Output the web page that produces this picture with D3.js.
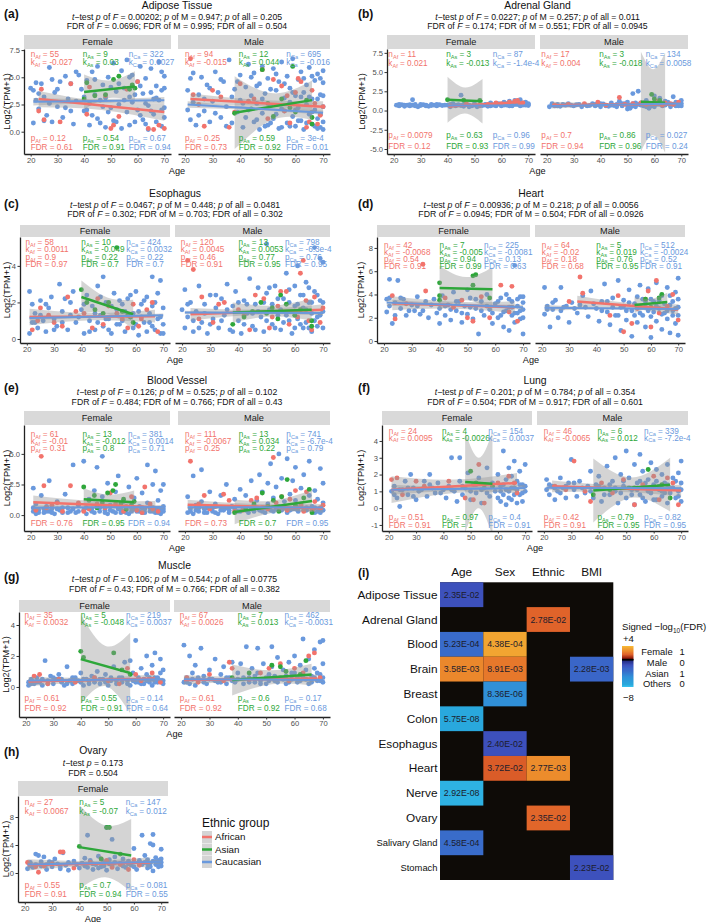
<!DOCTYPE html>
<html><head><meta charset="utf-8">
<script src="https://cdn.jsdelivr.net/npm/d3@7"></script>
<style>body{margin:0;background:#fff}svg{display:block}</style>
</head><body><svg id="c" width="709" height="922"></svg>
<script>
// ---------------- DATA ----------------
const xTicks = [20,30,40,50,60,70];
const groups = ["Af","As","Ca"];
const groupNames = ["African","Asian","Caucasian"];

// (a) Adipose Tissue
const adiposeF_Ca = [[21,0.8],[21,3.8],[22,2.9],[22,4.5],[23,2.1],[24,4.4],[25,3.2],[26,1.5],[27,5.9],[27,2.6],[28,0.9],[29,3.6],[30,2.3],[31,4.6],[32,1.3],[33,5.1],[34,3.0],[35,4.4],[36,0.7],[37,2.8],[38,5.2],[39,3.9],[40,1.9],[41,4.7],[42,2.6],[42,0.6],[43,5.5],[44,3.4],[45,1.2],[45,6.0],[46,2.9],[47,4.3],[48,0.4],[48,3.1],[49,5.0],[50,2.2],[51,6.3],[51,1.0],[52,3.7],[53,2.5],[54,5.6],[54,0.3],[55,4.0],[56,1.8],[56,6.6],[57,3.2],[58,2.7],[58,5.2],[59,0.9],[60,4.6],[60,2.0],[61,6.0],[62,3.5],[62,1.1],[63,4.9],[64,2.4],[64,0.2],[65,5.8],[66,3.0],[66,1.6],[67,4.2],[68,2.9],[68,6.4],[69,0.5],[69,3.8],[70,2.2],[70,5.1],[70,1.3],
  [20,4.0],[23,3.5],[25,1.0],[28,4.8],[30,3.9],[33,2.2],[35,1.9],[37,5.5],[40,3.2],[41,2.0],[43,1.5],[44,4.8],[46,0.8],[47,2.3],[49,1.8],[50,4.1],[52,0.9],[53,4.4],[55,2.9],[57,0.6],[57,5.0],[59,3.4],[61,1.5],[61,4.2],[63,2.6],[63,0.7],[65,3.6],[65,1.9],[67,0.9],[67,3.1],[69,5.5],[69,2.0],[70,4.0]];
const adiposeF_Af = [[23,1.9],[24,3.9],[25,1.1],[31,0.9],[35,4.4],[41,1.6],[42,4.1],[48,3.3],[50,0.3],[51,0.6],[53,1.4],[56,3.9],[60,4.6],[64,0.3],[66,0.2],[68,0.6],[70,0.3]];
const adiposeF_As = [[40,3.0],[41,4.5],[44,3.3],[48,3.4],[51,4.8],[53,5.1],[57,3.9],[58,4.3],[59,4.0]];
const adiposeM_Ca = [[21,3.8],[22,1.1],[22,4.9],[23,2.7],[24,0.6],[25,3.4],[26,5.0],[27,1.9],[28,4.3],[29,0.9],[30,2.8],[31,5.5],[32,3.6],[33,1.3],[34,4.6],[35,2.3],[36,6.6],[37,0.8],[38,3.9],[39,1.8],[40,5.2],[40,2.9],[41,0.4],[42,4.1],[43,2.0],[43,6.2],[44,3.3],[45,0.9],[45,5.4],[46,2.6],[47,4.4],[47,0.2],[48,1.7],[48,6.0],[49,3.5],[50,0.6],[50,4.9],[51,2.4],[52,5.8],[52,1.2],[53,3.8],[54,0.3],[54,4.6],[55,2.1],[55,6.4],[56,3.1],[57,0.8],[57,5.1],[58,2.7],[58,4.0],[59,1.4],[59,6.7],[60,3.3],[60,0.5],[61,4.8],[61,2.2],[62,5.5],[62,1.0],[63,3.6],[63,0.2],[64,4.3],[64,2.5],[65,5.9],[65,1.6],[66,3.0],[66,0.7],[67,4.7],[67,2.0],[68,5.3],[68,1.2],[69,3.4],[69,0.4],[70,4.5],[70,2.3],[70,0.9],
  [21,2.0],[23,5.4],[25,1.5],[27,3.0],[29,4.0],[31,1.7],[33,4.8],[35,0.5],[37,3.2],[39,4.6],[41,2.6],[42,1.3],[44,5.0],[46,1.1],[46,4.2],[48,3.0],[49,0.5],[51,3.9],[51,0.8],[53,1.6],[53,5.3],[55,0.4],[56,4.4],[56,1.9],[58,0.5],[59,3.6],[60,2.0],[61,1.0],[62,3.2],[63,4.9],[64,0.8],[65,3.2],[66,5.1],[66,1.8],[67,0.5],[68,3.0],[68,0.3],[69,4.9],[69,1.6],[70,3.3],[70,0.2],[70,5.6]];
const adiposeM_Af = [[22,6.7],[23,3.4],[27,0.5],[30,3.8],[33,3.2],[36,0.4],[40,4.4],[45,3.0],[48,5.7],[50,1.2],[55,4.2],[56,1.9],[58,0.8],[60,3.6],[61,4.9],[62,4.6],[65,0.9],[67,2.6],[69,1.5],[25,2.5],[38,1.8],[43,2.8],[52,4.8],[57,3.3],[64,0.4],[66,3.8],[68,0.7],[70,2.3]];
const adiposeM_As = [[38,1.7],[44,2.1],[48,5.7],[50,2.6],[52,1.4],[55,3.0],[58,2.2],[59,6.0],[60,1.8],[64,2.9],[66,1.3],[66,0.7]];
const adiposeFits = [[0,"Af",23,3.0,70,1.8,0.75,0.4,0.8],[0,"As",40,3.65,59,4.15,1.6,0.8,1.4],[0,"Ca",21,2.75,70,2.9,0.35,0.18,0.3],[1,"Af",22,3.0,70,2.3,0.5,0.28,0.5],[1,"As",38,1.75,66,2.9,3.35,1.2,1.8],[1,"Ca",21,2.5,70,1.75,0.3,0.14,0.2]];
const adiposeStats = [[0,"Af","55","-0.027","0.12","0.61"],[0,"As","9","0.03","0.54","0.91"],[0,"Ca","322","0.0027","0.67","0.94"],[1,"Af","94","-0.015","0.25","0.73"],[1,"As","12","0.044","0.59","0.92"],[1,"Ca","695","-0.016","3e-4","0.01"]];
const adiposeSub = ["_t_−test _p_ of _F_ = 0.00202; _p_ of M = 0.947; _p_ of all = 0.205","FDR of _F_ = 0.0696; FDR of M = 0.995; FDR of all = 0.504"];

// (b) Adrenal Gland
const adrenalF_Ca = [[21,0.7],[22,0.6],[23,0.75],[24,0.55],[25,0.7],[26,0.6],[27,1.4],[27,0.7],[28,0.8],[29,0.5],[30,0.65],[31,0.75],[32,0.7],[33,0.55],[34,0.8],[35,0.7],[36,0.6],[37,0.75],[38,0.65],[40,0.7],[41,0.5],[42,0.9],[43,0.6],[44,0.75],[45,2.0],[45,0.65],[46,0.55],[47,0.8],[48,0.7],[49,0.6],[50,0.9],[51,0.5],[52,0.75],[53,0.65],[54,0.8],[55,0.55],[56,1.0],[57,0.7],[58,0.6],[59,0.9],[60,0.8],[61,1.1],[62,0.7],[63,1.2],[63,0.6],[64,0.9],[65,1.3],[66,0.8],[67,1.4],[67,0.6],[68,1.0],[69,0.7],[69,1.1],[70,0.65],[70,0.9],
  [22,0.8],[24,0.7],[26,0.75],[28,0.6],[30,0.8],[32,0.6],[34,0.65],[36,0.8],[39,0.7],[41,0.8],[43,0.7],[46,0.8],[48,0.5],[50,0.7],[52,0.6],[54,0.7],[56,0.6],[58,0.8],[60,0.6],[61,0.7],[62,0.9],[64,0.6],[65,0.8],[66,1.0],[68,0.7],[69,0.9],[70,0.8]];
const adrenalF_Af = [[41,0.6],[47,0.9],[52,0.7],[55,0.8],[58,1.0],[60,0.9],[63,1.1],[65,1.2],[66,1.3],[67,0.9],[68,1.0]];
const adrenalF_As = [[40,1.4],[46,1.35],[52,1.3]];
const adrenalM_Ca = [[21,0.5],[22,0.7],[23,0.6],[24,0.8],[25,0.55],[27,0.7],[28,0.9],[30,0.6],[31,0.75],[33,0.5],[34,0.8],[36,0.65],[37,0.9],[38,0.6],[39,0.75],[40,0.5],[41,0.85],[42,0.7],[43,0.55],[44,1.0],[45,0.65],[46,0.8],[47,1.2],[48,0.6],[49,0.9],[50,0.2],[50,1.1],[51,0.7],[51,0.3],[52,2.2],[52,0.9],[53,0.5],[54,2.5],[54,0.8],[55,1.0],[56,0.6],[57,1.3],[58,0.7],[58,0.3],[59,0.9],[60,1.9],[60,0.5],[61,1.1],[62,0.8],[62,1.6],[63,0.6],[64,1.2],[65,0.9],[66,0.5],[67,1.8],[67,0.8],[68,1.1],[69,0.6],[70,1.3],[70,0.9],
  [22,0.9],[24,0.6],[26,0.8],[29,0.7],[32,0.8],[35,0.6],[38,0.8],[40,0.9],[42,0.6],[44,0.7],[46,0.5],[48,0.9],[50,0.7],[52,0.6],[53,1.0],[55,0.7],[56,1.0],[57,0.5],[59,0.6],[61,0.8],[63,0.9],[64,0.7],[65,1.1],[66,0.8],[68,0.6],[69,0.9],[70,0.6]];
const adrenalM_Af = [[23,0.7],[28,0.8],[34,0.9],[39,1.1],[42,0.7],[47,1.7],[49,0.8],[52,0.9],[55,1.0],[57,0.8],[60,0.9],[61,1.2],[63,0.7],[64,1.0],[66,0.9],[67,0.8],[69,1.1]];
const adrenalM_As = [[59,2.1],[60,1.5],[62,1.3]];
const adrenalFits = [[0,"Af",41,0.55,67,1.1,0.3,0.15,0.25],[0,"As",40,1.4,53,1.2,3.0,1.7,2.9],[0,"Ca",21,0.65,70,0.65,0.1,0.05,0.08],[1,"Af",22,0.7,68,0.85,0.45,0.2,0.3],[1,"As",55,1.15,64,1.0,6.5,4.3,6.5],[1,"Ca",21,0.6,70,0.9,0.1,0.05,0.08]];
const adrenalStats = [[0,"Af","11","0.021","0.0079","0.12"],[0,"As","3","-0.013","0.63","0.93"],[0,"Ca","87","-1.4e-4","0.96","0.99"],[1,"Af","17","0.004","0.7","0.94"],[1,"As","3","-0.018","0.86","0.96"],[1,"Ca","134","0.0058","0.027","0.24"]];
const adrenalSub = ["_t_−test _p_ of _F_ = 0.0227; _p_ of M = 0.257; _p_ of all = 0.011","FDR of _F_ = 0.174; FDR of M = 0.551; FDR of all = 0.0945"];

// (c) Esophagus
const esoF_Ca = [[21,2.6],[21,0.3],[22,1.9],[22,0.9],[23,1.4],[24,0.6],[25,2.1],[26,1.0],[27,0.4],[28,1.7],[29,2.3],[30,1.1],[31,0.7],[32,3.0],[33,1.5],[34,2.2],[35,0.5],[36,1.3],[37,2.6],[38,0.9],[40,1.6],[41,0.3],[42,2.4],[43,1.0],[44,1.8],[45,0.5],[46,2.9],[47,1.3],[48,3.4],[48,0.7],[49,2.0],[50,1.1],[51,0.3],[52,2.5],[53,1.6],[54,0.8],[55,1.9],[56,0.4],[57,2.2],[58,1.2],[59,0.6],[60,2.6],[61,1.5],[61,0.2],[62,1.9],[63,0.9],[64,2.3],[64,0.4],[65,1.4],[66,3.4],[66,0.7],[67,2.0],[68,1.1],[69,3.2],[69,0.3],[70,1.7],[70,0.8],
  [23,0.9],[25,1.3],[27,1.9],[30,0.5],[33,0.9],[36,2.0],[39,1.2],[41,1.9],[43,0.4],[45,1.4],[46,0.9],[47,2.3],[49,1.1],[50,0.5],[51,1.8],[53,0.8],[54,2.1],[55,1.0],[56,1.5],[58,2.4],[59,1.4],[60,0.8],[62,1.2],[63,2.1],[65,0.9],[66,1.8],[67,0.5],[68,2.5],[69,1.2],[70,0.3]];
const esoF_Af = [[22,0.5],[25,1.7],[28,1.3],[33,0.7],[35,2.3],[38,1.5],[44,0.6],[46,2.2],[50,1.8],[53,1.4],[57,0.6],[59,1.9],[62,1.1],[66,2.0],[68,0.4],[24,1.0],[30,0.9],[41,1.4],[48,0.8],[55,1.1],[61,0.7],[64,1.6]];
const esoF_As = [[40,2.7],[42,2.0],[45,1.6],[48,1.4],[50,2.0],[53,5.0],[55,1.5],[57,1.3],[58,1.2],[59,0.9]];
const esoM_Ca = [[20,1.6],[21,0.6],[21,2.7],[22,1.2],[23,2.0],[24,0.4],[25,1.5],[26,2.9],[27,0.9],[28,1.9],[29,0.3],[30,2.4],[31,1.1],[32,1.7],[33,0.6],[34,2.2],[35,1.3],[36,3.0],[37,0.5],[38,1.8],[39,2.6],[40,1.0],[41,0.3],[42,2.1],[43,1.4],[44,3.3],[45,0.7],[46,1.9],[47,2.8],[48,1.2],[49,0.4],[50,2.5],[50,5.2],[51,1.6],[52,0.8],[53,2.9],[54,1.3],[55,0.5],[56,2.2],[57,3.6],[58,1.0],[58,2.7],[59,0.3],[60,1.8],[61,4.0],[61,1.1],[62,2.4],[63,0.6],[63,1.7],[64,3.1],[64,0.9],[65,2.0],[66,1.4],[66,0.4],[67,2.6],[67,5.0],[68,1.2],[68,0.7],[69,4.4],[69,2.1],[70,1.5],[70,0.6],[70,4.2],
  [22,1.9],[24,1.0],[26,0.6],[28,1.4],[30,0.8],[32,2.4],[34,1.0],[36,1.6],[38,0.4],[40,2.0],[42,0.8],[43,1.9],[45,1.4],[46,0.5],[47,1.5],[49,2.0],[50,1.0],[51,2.8],[52,1.9],[53,0.6],[54,2.2],[55,1.6],[56,0.9],[57,1.3],[58,2.0],[59,1.5],[60,0.6],[60,2.9],[61,1.9],[62,0.8],[63,2.4],[64,1.6],[65,0.6],[65,2.8],[66,2.0],[67,1.0],[68,2.4],[69,1.3],[70,2.0]];
const esoM_Af = [[22,4.3],[24,3.8],[27,2.3],[31,0.9],[35,2.0],[40,1.6],[44,0.5],[49,2.2],[52,1.2],[55,2.6],[58,0.8],[60,1.5],[62,3.6],[63,4.3],[65,1.0],[67,2.3],[69,0.9],[26,1.1],[33,1.9],[42,1.3],[46,2.4],[51,0.6],[54,1.8],[57,2.6],[61,1.2],[64,2.1],[66,0.5],[70,1.7]];
const esoM_As = [[38,0.8],[42,1.2],[45,1.5],[48,2.0],[50,1.4],[52,1.7],[54,1.1],[55,2.4],[57,1.9],[60,1.3],[62,1.6],[66,0.7],[66,1.0]];
const esoFits = [[0,"Af",21,1.2,67,1.25,0.45,0.2,0.35],[0,"As",40,2.3,59,1.35,0.9,0.45,0.8],[0,"Ca",21,1.15,70,1.3,0.12,0.06,0.1],[1,"Af",23,1.35,70,1.6,0.35,0.15,0.3],[1,"As",38,1.45,66,1.6,0.55,0.3,0.6],[1,"Ca",21,1.45,70,1.42,0.1,0.05,0.08]];
const esoStats = [[0,"Af","58","0.0011","0.9","0.97"],[0,"As","10","-0.049","0.22","0.7"],[0,"Ca","424","0.0032","0.22","0.7"],[1,"Af","120","0.0045","0.46","0.91"],[1,"As","13","0.0053","0.77","0.95"],[1,"Ca","798","-6.3e-4","0.76","0.95"]];
const esoSub = ["_t_−test _p_ of _F_ = 0.0467; _p_ of M = 0.448; _p_ of all = 0.0481","FDR of _F_ = 0.302; FDR of M = 0.703; FDR of all = 0.302"];

// (d) Heart
const heartF_Ca = [[21,3.6],[21,2.5],[22,5.3],[22,3.0],[23,1.5],[24,3.3],[25,5.2],[26,2.8],[27,3.6],[28,2.2],[30,3.1],[31,2.6],[32,3.8],[33,2.3],[35,3.4],[36,2.0],[38,3.6],[40,1.5],[40,2.8],[41,3.9],[42,2.2],[43,3.1],[44,1.8],[45,4.2],[46,2.6],[47,3.4],[48,1.6],[49,3.0],[50,4.4],[50,2.3],[51,3.7],[52,1.9],[53,2.8],[54,0.6],[55,3.4],[56,2.2],[57,4.0],[58,2.7],[59,1.5],[60,3.2],[61,2.0],[62,3.7],[63,2.5],[63,1.2],[64,4.0],[65,2.9],[65,0.9],[66,3.4],[66,2.2],[67,6.5],[67,1.6],[68,3.0],[68,2.4],[69,3.8],[69,1.9],[70,2.7],[70,0.6],[70,3.3],
  [22,3.7],[24,2.2],[26,3.7],[29,2.6],[32,3.0],[34,2.6],[37,3.1],[39,2.4],[42,3.0],[44,2.7],[46,3.4],[48,2.4],[51,2.9],[53,3.6],[55,2.6],[57,3.0],[59,2.4],[61,3.4],[62,2.2],[64,2.6],[65,3.6],[66,2.9],[67,2.4],[68,3.6],[69,2.6],[70,2.0],[70,3.8]];
const heartF_Af = [[23,3.9],[24,1.9],[28,3.2],[34,6.6],[35,4.3],[42,3.7],[45,2.9],[48,3.5],[50,2.0],[52,1.7],[55,3.8],[58,2.0],[62,4.8],[65,2.5],[66,4.7],[68,1.7]];
const heartF_As = [[40,5.0],[40,3.9],[40,3.5],[52,5.6],[53,5.7],[52,4.8],[58,3.7]];
const heartM_Ca = [[21,4.6],[21,2.3],[22,3.0],[23,1.2],[24,2.7],[25,3.5],[26,2.0],[27,4.6],[28,2.9],[30,1.6],[31,3.3],[33,2.4],[35,3.9],[37,2.1],[38,4.3],[40,2.8],[41,1.7],[42,3.4],[43,4.9],[44,2.5],[45,1.4],[46,3.7],[47,2.2],[48,5.2],[49,2.9],[49,0.9],[50,3.5],[51,1.8],[52,4.4],[53,2.6],[53,0.4],[54,3.2],[55,1.6],[56,4.8],[56,2.4],[57,3.6],[58,1.2],[58,2.9],[59,4.5],[60,2.1],[60,0.3],[61,3.4],[62,5.0],[62,1.7],[63,2.8],[64,3.9],[64,1.0],[65,2.4],[66,4.6],[66,1.9],[67,3.1],[67,0.7],[68,2.6],[69,4.2],[69,1.5],[70,5.4],[70,2.9],[70,0.5],
  [22,2.7],[24,3.3],[27,2.6],[29,3.0],[32,2.8],[34,3.1],[36,2.9],[39,3.2],[42,2.6],[44,3.4],[46,2.9],[48,2.2],[50,3.0],[51,2.6],[52,3.3],[54,2.2],[55,3.8],[56,3.0],[57,2.2],[58,3.4],[59,2.6],[60,3.6],[61,2.5],[62,3.0],[63,3.5],[64,2.3],[65,3.2],[66,2.6],[67,3.9],[68,2.2],[68,3.4],[69,2.8],[70,3.6],[70,2.2]];
const heartM_Af = [[30,3.4],[34,5.5],[35,4.1],[45,2.2],[48,3.9],[50,0.8],[53,1.5],[55,2.8],[58,3.6],[59,4.3],[60,1.2],[62,5.2],[63,2.4],[66,3.0],[68,4.0],[70,1.8]];
const heartM_As = [[55,3.0],[58,3.6],[60,2.9],[63,3.7],[64,4.0]];
const heartFits = [[0,"Af",23,3.25,67,2.9,0.6,0.3,0.5],[0,"As",40,4.55,59,4.45,1.9,1.0,1.9],[0,"Ca",21,3.3,70,2.9,0.3,0.12,0.2],[1,"Af",33,3.4,70,2.7,0.5,0.25,0.45],[1,"As",54,3.1,66,3.35,0.7,0.4,0.8],[1,"Ca",21,2.85,70,2.75,0.25,0.1,0.15]];
const heartStats = [[0,"Af","42","-0.0068","0.54","0.91"],[0,"As","7","-0.005","0.94","0.99"],[0,"Ca","225","-0.0081","0.13","0.63"],[1,"Af","64","-0.02","0.18","0.68"],[1,"As","5","0.019","0.76","0.95"],[1,"Ca","512","-0.0024","0.52","0.91"]];
const heartSub = ["_t_−test _p_ of _F_ = 0.00936; _p_ of M = 0.218; _p_ of all = 0.0056","FDR of _F_ = 0.0945; FDR of M = 0.504; FDR of all = 0.0926"];

// (e) Blood Vessel
const vesselF_Ca = [[21,0.3],[21,2.2],[22,0.1],[22,0.9],[23,0.4],[24,1.6],[25,0.2],[26,0.7],[27,2.8],[27,0.3],[28,0.5],[29,0.1],[30,1.1],[31,0.4],[32,0.2],[33,1.7],[34,0.6],[35,0.3],[36,4.1],[37,0.2],[38,0.8],[40,0.4],[40,4.4],[41,0.1],[42,1.3],[43,0.5],[44,2.0],[44,0.2],[45,3.9],[45,0.7],[46,0.3],[47,4.8],[47,1.5],[48,0.4],[49,2.6],[49,0.1],[50,0.8],[51,0.3],[52,1.9],[53,0.5],[53,3.2],[54,0.2],[55,1.1],[56,0.4],[57,2.3],[57,0.1],[58,0.6],[59,1.4],[60,0.3],[60,3.0],[61,0.7],[62,0.2],[62,1.8],[63,0.5],[64,4.1],[64,1.0],[65,0.3],[66,2.5],[66,0.6],[67,0.2],[67,3.6],[68,1.2],[68,0.4],[69,2.0],[69,0.1],[70,0.7],[70,2.5],
  [21,0.6],[23,0.2],[25,0.5],[26,0.3],[28,0.2],[30,0.5],[32,0.6],[34,0.2],[36,0.5],[38,0.3],[41,0.6],[43,0.3],[46,0.6],[48,0.2],[50,0.4],[52,0.2],[54,0.5],[55,0.3],[56,0.2],[58,0.3],[59,0.5],[61,0.3],[62,0.6],[63,0.2],[65,0.6],[66,0.3],[67,0.5],[68,0.2],[69,0.4],[70,0.3],[70,0.5]];
const vesselF_Af = [[22,0.4],[24,4.8],[25,2.4],[28,0.8],[32,0.3],[35,2.4],[38,1.0],[42,0.5],[48,0.6],[50,1.8],[52,0.9],[55,0.3],[58,1.5],[62,0.2],[63,2.3],[66,0.5],[68,0.3],[26,0.6],[30,1.0],[40,0.3],[45,0.9],[56,0.7],[60,0.4],[65,0.9]];
const vesselF_As = [[40,2.3],[42,1.2],[44,1.6],[45,0.6],[47,1.0],[49,1.8],[51,2.0],[52,2.5],[54,0.9],[55,1.3],[56,0.5],[58,0.8],[59,1.1]];
const vesselM_Ca = [[21,0.2],[21,1.5],[22,0.5],[23,3.2],[23,0.1],[24,0.8],[25,0.3],[26,3.7],[26,1.1],[27,0.2],[28,0.6],[29,1.9],[30,0.3],[31,0.9],[32,0.1],[33,1.6],[34,0.4],[35,2.5],[36,0.2],[37,0.7],[38,1.3],[39,0.3],[40,2.1],[41,0.5],[42,1.6],[43,0.2],[44,2.8],[45,0.8],[46,1.2],[47,3.3],[47,0.4],[48,1.9],[49,0.2],[50,2.6],[50,0.9],[51,4.2],[52,1.4],[52,0.3],[53,2.3],[54,5.0],[54,0.7],[55,3.0],[56,1.1],[57,0.2],[57,4.6],[58,1.7],[59,0.5],[59,2.8],[60,1.2],[60,3.9],[61,0.3],[62,2.2],[62,0.9],[63,3.3],[64,0.4],[65,1.6],[65,4.4],[66,0.7],[67,2.0],[67,0.2],[68,1.3],[69,3.8],[69,0.5],[70,1.0],[70,2.6],
  [22,0.3],[24,0.4],[25,0.6],[27,0.5],[28,0.2],[30,0.6],[31,0.2],[33,0.4],[35,0.6],[36,0.4],[38,0.5],[40,0.3],[42,0.4],[44,0.5],[45,0.3],[46,0.6],[48,0.3],[49,0.6],[51,0.4],[53,0.5],[55,0.4],[56,0.6],[58,0.4],[60,0.5],[61,0.6],[63,0.4],[64,0.6],[66,0.4],[67,0.6],[68,0.3],[69,0.2],[70,0.4]];
const vesselM_Af = [[22,4.4],[25,0.9],[29,0.5],[34,1.7],[38,0.3],[44,1.2],[48,0.6],[52,4.7],[55,1.5],[57,0.4],[60,2.0],[62,0.8],[64,1.9],[66,0.4],[69,0.6],[27,1.6],[31,0.7],[36,1.2],[41,0.4],[46,1.4],[50,0.5],[53,1.0],[58,1.3],[63,0.3],[67,1.1],[70,0.8]];
const vesselM_As = [[38,0.2],[42,0.6],[45,0.9],[48,1.8],[50,0.7],[52,1.2],[54,0.3],[55,1.5],[57,2.9],[60,0.8],[63,1.4],[65,2.1],[66,0.2]];
const vesselFits = [[0,"Af",21,1.05,67,0.65,0.55,0.3,0.5],[0,"As",40,1.3,59,1.05,0.9,0.5,0.95],[0,"Ca",21,0.6,70,0.67,0.2,0.08,0.15],[1,"Af",21,0.85,70,0.55,0.4,0.2,0.35],[1,"As",38,0.25,66,1.15,1.0,0.5,0.9],[1,"Ca",21,0.65,70,0.62,0.15,0.06,0.1]];
const vesselStats = [[0,"Af","61","-0.01","0.31","0.76"],[0,"As","13","-0.012","0.8","0.95"],[0,"Ca","381","0.0014","0.71","0.94"],[1,"Af","111","-0.0067","0.25","0.73"],[1,"As","13","0.034","0.22","0.7"],[1,"Ca","741","-6.7e-4","0.79","0.95"]];
const vesselSub = ["_t_−test _p_ of _F_ = 0.126; _p_ of M = 0.525; _p_ of all = 0.102","FDR of _F_ = 0.484; FDR of M = 0.766; FDR of all = 0.43"];

// (f) Lung
const lungF_Ca = [[21,1.0],[22,1.3],[23,0.6],[24,0.1],[25,1.1],[26,1.6],[27,0.8],[28,2.0],[29,1.2],[30,0.5],[31,1.0],[33,1.6],[34,0.7],[35,2.0],[36,1.2],[37,0.9],[38,1.5],[40,1.1],[41,0.6],[42,1.3],[43,3.0],[44,1.0],[45,0.4],[46,3.0],[46,1.6],[47,0.8],[48,1.2],[49,2.1],[50,0.5],[51,1.4],[52,0.9],[53,1.8],[54,0.3],[55,1.2],[56,2.4],[57,0.7],[58,1.5],[59,1.0],[60,2.0],[61,0.4],[61,1.3],[62,3.4],[62,0.8],[63,1.7],[63,0.2],[64,2.4],[64,1.0],[65,0.5],[65,1.9],[66,2.8],[66,1.2],[67,0.3],[67,1.6],[68,2.2],[68,0.8],[69,1.4],[69,0.4],[70,1.0],[70,2.6],
  [22,0.8],[24,1.1],[27,1.2],[29,0.7],[32,1.1],[35,1.4],[39,0.9],[43,1.1],[47,1.3],[50,1.0],[52,1.4],[54,1.1],[56,0.9],[58,1.3],[60,0.6],[61,1.0],[62,1.4],[63,1.1],[64,0.6],[65,1.2],[66,0.8],[67,1.1],[68,1.4],[69,0.9],[70,1.3]];
const lungF_Af = [[21,1.7],[23,1.8],[25,0.8],[30,1.6],[33,1.3],[42,1.6],[48,0.6],[51,0.5],[53,2.6],[55,0.3],[60,1.5],[64,1.9],[66,1.5],[67,0.9]];
const lungF_As = [[50,2.2],[52,1.5],[55,1.4],[58,1.3]];
const lungM_Ca = [[21,1.1],[21,1.7],[22,0.8],[23,1.3],[24,0.5],[25,1.0],[26,1.8],[27,1.2],[28,0.6],[29,1.5],[30,2.9],[31,1.1],[32,0.7],[33,1.6],[35,0.9],[36,1.3],[37,2.2],[38,0.6],[39,1.4],[40,1.9],[41,0.4],[42,1.2],[43,2.5],[44,0.8],[45,1.6],[46,3.0],[46,1.0],[47,0.3],[48,2.0],[49,1.3],[50,3.4],[50,0.6],[51,1.8],[52,1.1],[53,2.6],[53,0.2],[54,1.5],[55,3.2],[55,0.8],[56,2.2],[57,1.2],[57,0.4],[58,1.7],[59,2.7],[59,0.9],[60,1.4],[61,2.3],[61,0.5],[62,1.1],[63,2.0],[63,0.7],[64,1.5],[65,2.6],[65,0.3],[66,1.2],[67,1.8],[68,0.6],[69,2.1],[69,1.0],[70,2.8],[70,0.4],[70,1.5],
  [22,1.4],[24,1.2],[26,0.9],[28,1.3],[31,1.5],[34,1.2],[37,1.0],[40,1.3],[42,0.8],[44,1.4],[46,1.2],[48,0.9],[49,1.6],[51,1.2],[52,0.8],[54,1.1],[55,1.6],[56,0.6],[57,1.5],[58,1.0],[60,1.2],[60,0.5],[61,1.6],[62,1.3],[63,1.0],[64,0.9],[65,1.4],[66,0.9],[67,1.2],[68,1.6],[69,0.7],[70,1.1]];
const lungM_Af = [[24,1.3],[28,1.1],[31,2.8],[35,1.0],[37,0.4],[41,1.5],[45,0.9],[49,1.7],[53,0.2],[56,1.4],[60,1.9],[62,0.5],[65,1.8],[67,1.5],[69,0.2]];
const lungM_As = [[38,0.8],[44,1.1],[53,1.2],[58,2.3],[63,1.4],[66,0.6]];
const lungFits = [[0,"Af",21,1.1,67,1.5,0.8,0.4,0.6],[0,"As",48,1.55,58,1.45,3.0,1.5,3.1],[0,"Ca",21,1.1,70,1.2,0.3,0.12,0.2],[1,"Af",23,1.3,70,1.05,0.35,0.2,0.35],[1,"As",38,1.05,66,1.4,1.9,0.6,1.6],[1,"Ca",21,1.22,70,1.18,0.15,0.07,0.1]];
const lungStats = [[0,"Af","24","0.0095","0.51","0.91"],[0,"As","4","-0.0026","0.97","1"],[0,"Ca","154","0.0037","0.4","0.91"],[1,"Af","46","-0.0065","0.42","0.91"],[1,"As","6","0.012","0.79","0.95"],[1,"Ca","339","-7.2e-4","0.82","0.95"]];
const lungSub = ["_t_−test _p_ of _F_ = 0.201; _p_ of M = 0.784; _p_ of all = 0.354","FDR of _F_ = 0.504; FDR of M = 0.917; FDR of all = 0.601"];

// (g) Muscle
const muscleF_Ca = [[21,0.3],[21,0.1],[22,0.5],[23,0.2],[24,0.6],[25,0.3],[26,0.1],[27,1.7],[28,0.4],[29,0.7],[30,0.2],[31,0.5],[32,0.8],[33,0.3],[34,0.1],[35,1.3],[36,0.4],[37,0.2],[38,0.6],[40,0.3],[40,0.9],[41,0.1],[42,0.5],[43,0.2],[44,0.7],[45,0.3],[46,1.0],[47,0.2],[48,0.5],[49,0.8],[50,0.1],[51,0.4],[52,1.3],[53,0.2],[54,0.6],[55,0.3],[56,1.6],[57,0.4],[58,1.7],[58,0.1],[59,0.9],[60,3.0],[60,0.3],[61,0.6],[62,1.2],[62,0.2],[63,0.5],[64,2.0],[64,0.8],[65,0.3],[66,1.4],[66,0.1],[67,2.2],[67,0.6],[68,0.3],[69,1.8],[69,0.9],[70,0.4],[70,1.1],
  [22,0.2],[24,0.3],[26,0.5],[28,0.2],[30,0.6],[33,0.5],[35,0.2],[37,0.6],[39,0.4],[41,0.5],[43,0.4],[45,0.6],[47,0.5],[49,0.3],[51,0.6],[53,0.4],[55,0.6],[57,0.2],[59,0.4],[61,0.3],[63,0.2],[64,0.4],[65,0.6],[66,0.5],[67,0.3],[68,0.6],[69,0.4],[70,0.2]];
const muscleF_Af = [[23,0.7],[25,0.8],[28,0.2],[32,0.5],[38,0.3],[45,0.6],[50,0.4],[54,0.2],[57,1.2],[60,0.8],[62,0.4],[66,0.9],[69,0.3]];
const muscleF_As = [[40,2.3],[41,1.9],[52,2.2],[55,1.1],[58,0.8]];
const muscleM_Ca = [[21,2.7],[21,0.3],[22,0.6],[23,2.0],[23,0.2],[24,0.9],[25,1.4],[25,0.1],[26,0.4],[27,2.5],[28,0.7],[29,0.2],[30,1.1],[31,0.5],[32,1.8],[33,0.3],[34,0.8],[35,1.3],[36,0.2],[37,0.6],[38,1.6],[39,0.3],[40,0.9],[41,1.5],[42,0.2],[43,2.6],[44,0.6],[45,1.2],[46,0.3],[47,2.5],[47,0.9],[48,0.4],[49,1.5],[50,0.2],[51,0.8],[52,2.6],[52,1.3],[53,0.4],[54,1.9],[55,0.6],[56,1.1],[57,0.2],[58,1.6],[59,0.5],[60,2.0],[60,0.9],[61,0.3],[62,1.4],[63,3.1],[63,0.6],[64,1.1],[65,0.2],[65,1.8],[66,0.7],[67,2.4],[67,1.2],[68,0.4],[69,2.9],[69,0.8],[70,1.5],[70,0.3],[70,3.0],
  [22,0.3],[24,0.5],[26,0.6],[28,0.3],[30,0.5],[32,0.4],[34,0.3],[36,0.6],[38,0.4],[40,0.5],[42,0.6],[44,0.3],[46,0.7],[48,0.2],[50,0.6],[51,0.4],[53,0.7],[54,0.3],[56,0.5],[57,0.7],[58,0.3],[59,0.9],[61,0.6],[62,0.4],[64,0.5],[66,0.3],[67,0.6],[68,0.9],[69,0.4],[70,0.6]];
const muscleM_Af = [[22,0.6],[26,0.3],[30,0.8],[35,0.4],[37,1.6],[38,1.2],[44,0.5],[48,0.9],[51,1.2],[55,1.5],[58,0.4],[60,1.2],[63,0.9],[65,2.0],[67,2.2],[69,0.6]];
const muscleM_As = [[38,0.6],[44,0.9],[52,1.4],[55,1.3],[57,1.0],[62,0.8],[64,1.7]];
const muscleFits = [[0,"Af",21,0.35,67,0.55,0.3,0.15,0.25],[0,"As",40,1.8,58,0.9,2.9,1.3,2.6],[0,"Ca",21,0.42,70,0.5,0.12,0.05,0.1],[1,"Af",21,0.45,68,0.55,0.3,0.15,0.25],[1,"As",38,0.45,66,0.8,1.0,0.45,0.7],[1,"Ca",21,0.5,70,0.45,0.12,0.05,0.1]];
const muscleStats = [[0,"Af","35","0.0032","0.61","0.92"],[0,"As","5","-0.048","0.55","0.91"],[0,"Ca","219","0.0037","0.14","0.64"],[1,"Af","67","0.0026","0.61","0.92"],[1,"As","7","0.013","0.6","0.92"],[1,"Ca","462","-0.0031","0.17","0.68"]];
const muscleSub = ["_t_−test _p_ of _F_ = 0.106; _p_ of M = 0.544; _p_ of all = 0.0775","FDR of _F_ = 0.43; FDR of M = 0.766; FDR of all = 0.382"];

// (h) Ovary
const ovaryF_Ca = [[21,0.6],[22,1.5],[23,0.8],[24,2.7],[25,2.5],[26,1.0],[27,2.3],[28,0.5],[29,1.6],[30,0.9],[31,2.0],[32,1.3],[33,0.6],[34,2.9],[35,1.1],[36,0.4],[38,1.7],[40,0.7],[41,1.4],[42,2.1],[43,5.4],[43,0.8],[44,1.8],[45,0.5],[46,1.2],[47,2.4],[48,0.9],[49,1.6],[50,6.5],[50,0.4],[51,1.9],[52,4.8],[52,1.0],[53,2.3],[54,0.6],[55,1.4],[56,2.0],[57,0.8],[58,1.7],[59,1.1],[60,3.5],[61,0.5],[62,1.8],[63,5.4],[63,1.2],[64,2.5],[65,0.7],[65,1.9],[66,4.2],[66,1.4],[67,5.5],[67,0.3],[67,4.0],[68,1.6],[68,2.2],[69,0.9],[69,1.8],[70,3.4],[70,1.0],[70,2.0],
  [22,1.0],[24,1.2],[26,1.6],[28,1.2],[30,1.5],[33,1.0],[36,1.5],[39,1.2],[42,1.0],[45,1.3],[47,0.7],[49,1.0],[51,1.3],[53,1.5],[56,1.0],[58,1.3],[60,0.9],[62,1.2],[64,1.5],[65,1.3],[66,0.9],[67,1.7],[68,1.2],[69,1.4],[70,1.5]];
const ovaryF_Af = [[21,1.5],[24,0.9],[25,0.1],[27,1.0],[30,1.3],[33,3.0],[34,3.0],[38,0.7],[44,1.5],[48,2.0],[50,1.8],[52,0.8],[55,1.2],[58,0.5],[60,1.9],[62,1.1]];
const ovaryF_As = [[40,3.8],[48,2.0],[50,6.5],[51,6.5],[55,2.7]];
const ovaryFits = [[0,"Af",21,1.15,66,1.5,0.8,0.4,0.7],[0,"As",40,3.7,59,2.5,6.0,3.7,5.2],[0,"Ca",21,1.2,70,1.6,0.4,0.2,0.3]];
const ovaryStats = [[0,"Af","27","0.0067","0.55","0.91"],[0,"As","5","-0.07","0.7","0.94"],[0,"Ca","147","0.012","0.081","0.55"]];
const ovarySub = ["_t_−test _p_ = 0.173","FDR = 0.504"];

// (i) Heatmap
const tissues = ["Adipose Tissue","Adrenal Gland","Blood","Brain","Breast","Colon","Esophagus","Heart","Nerve","Ovary","Salivary Gland","Stomach"];
const factors = ["Age","Sex","Ethnic","BMI"];
const fdrCells = [["Adipose Tissue","Age",2.35e-2,-1],["Adrenal Gland","Ethnic",2.78e-2,1],["Blood","Age",5.23e-4,-1],["Blood","Sex",4.38e-4,1],["Brain","Age",3.58e-3,1],["Brain","Sex",8.91e-3,1],["Brain","BMI",2.28e-3,-1],["Breast","Sex",8.36e-6,-1],["Colon","Age",5.75e-8,-1],["Esophagus","Sex",2.40e-2,-1],["Heart","Sex",3.72e-2,1],["Heart","Ethnic",2.77e-3,1],["Nerve","Age",2.92e-8,-1],["Ovary","Ethnic",2.35e-2,1],["Salivary Gland","Age",4.58e-4,-1],["Stomach","BMI",2.23e-2,-1]];
const codeLabels = [["Female","1"],["Male","0"],["Asian","1"],["Others","0"]];
const scaleEnds = [4,-8];

// ---------------- DRAWING ----------------
const FONT = '"Liberation Sans", Arial, Helvetica, sans-serif';
const COL = {Af:"#F2736C", As:"#2EA73A", Ca:"#6A99DD"};
const svg = d3.select("#c").attr("font-family", FONT);

function rich(t, str){
  str.split("_").forEach((s,i)=>{ if(s) t.append("tspan").attr("font-style", i%2 ? "italic":"normal").text(s); });
}

const panels = [
 {id:"a",title:"Adipose Tissue",sub:adiposeSub,lab:[4,14],tY:5,sY:[17,26],fac:[["Female",24,171],["Male",178,330]],sTop:35,top:49,bot:154,yd:[-2.05,7.6],yt:[0,2.5,5,7.5],dec:1,ylx:7,pts:[[adiposeF_Af,adiposeF_As,adiposeF_Ca],[adiposeM_Af,adiposeM_As,adiposeM_Ca]],fits:adiposeFits,stats:adiposeStats,nTop:2,tOff:5,sp:8.5,bOff:[16,7],sAge:[20,39.5,56.7]},
 {id:"b",title:"Adrenal Gland",sub:adrenalSub,lab:[358,14],tY:5,sY:[17,26],fac:[["Female",387,535],["Male",540,688]],sTop:35,top:49,bot:154,yd:[-5.65,8.0],yt:[-5,-2.5,0,2.5,5,7.5],dec:1,ylx:362,pts:[[adrenalF_Af,adrenalF_As,adrenalF_Ca],[adrenalM_Af,adrenalM_As,adrenalM_Ca]],fits:adrenalFits,stats:adrenalStats,nTop:2,tOff:5,sp:9.5,bOff:[19,8],sAge:[18,39.5,56.8]},
 {id:"c",title:"Esophagus",sub:esoSub,lab:[4,204],tY:193,sY:[205,214],fac:[["Female",20,170],["Male",175,330]],sTop:225,top:237,bot:343,yd:[-0.22,5.58],yt:[0,2,4],dec:0,ylx:7,pts:[[esoF_Af,esoF_As,esoF_Ca],[esoM_Af,esoM_As,esoM_Ca]],fits:esoFits,stats:esoStats,nTop:4,tOff:5,sp:7.5,bOff:[],sAge:[19.5,40,56.5]},
 {id:"d",title:"Heart",sub:heartSub,lab:[358,204],tY:193,sY:[205,214],fac:[["Female",377,530],["Male",535,685]],sTop:225,top:237,bot:343,yd:[-0.17,8.94],yt:[0,2,4,6,8],dec:0,ylx:361,pts:[[heartF_Af,heartF_As,heartF_Ca],[heartM_Af,heartM_As,heartM_Ca]],fits:heartFits,stats:heartStats,nTop:4,tOff:8,sp:6.9,bOff:[],sAge:[20,40,56]},
 {id:"e",title:"Blood Vessel",sub:vesselSub,lab:[4,388],tY:380,sY:[392,402],fac:[["Female",24,170],["Male",178,330]],sTop:411,top:425,bot:531,yd:[-1.3,7.36],yt:[0,2.5,5],dec:1,ylx:7,pts:[[vesselF_Af,vesselF_As,vesselF_Ca],[vesselM_Af,vesselM_As,vesselM_Ca]],fits:vesselFits,stats:vesselStats,nTop:3,tOff:9,sp:7,bOff:[8],sAge:[20,39.5,56.7]},
 {id:"f",title:"Lung",sub:lungSub,lab:[358,388],tY:380,sY:[392,402],fac:[["Female",382,532],["Male",537,688]],sTop:411,top:425,bot:531,yd:[-1.36,4.95],yt:[-1,0,1,2,3,4],dec:0,ylx:361,pts:[[lungF_Af,lungF_As,lungF_Ca],[lungM_Af,lungM_As,lungM_Ca]],fits:lungFits,stats:lungStats,nTop:2,tOff:6,sp:6.8,bOff:[14,6],sAge:[20,39.5,56.5]},
 {id:"g",title:"Muscle",sub:muscleSub,lab:[4,577],tY:565,sY:[579,589],fac:[["Female",19,170],["Male",174,330]],sTop:600,top:612,bot:717,yd:[-1.94,4.84],yt:[0,2,4],dec:0,ylx:6,pts:[[muscleF_Af,muscleF_As,muscleF_Ca],[muscleM_Af,muscleM_As,muscleM_Ca]],fits:muscleFits,stats:muscleStats,nTop:2,tOff:3,sp:6.9,bOff:[19,9],sAge:[19.5,40,56.5]},
 {id:"h",title:"Ovary",sub:ovarySub,lab:[4,752],tY:750,sY:[763,773],fac:[["Female",18,168]],sTop:781,top:796,bot:902,yd:[-4.14,11.0],yt:[0,4,8],dec:0,ylx:6,pts:[[ovaryF_Af,ovaryF_As,ovaryF_Ca]],fits:ovaryFits,stats:ovaryStats,nTop:2,tOff:6,sp:9,bOff:[17,8],sAge:[20,40,57]}
];

panels.forEach(P => {
  const g = svg.append("g");
  const left = P.fac[0][1], right = P.fac[P.fac.length-1][2];
  const cx = (left+right)/2;
  const y = d3.scaleLinear().domain(P.yd).range([P.bot, P.top]);
  g.append("text").attr("x",P.lab[0]).attr("y",P.lab[1]).attr("dy","0.35em").attr("font-size",12).attr("font-weight","bold").attr("fill","#111").text("("+P.id+")");
  g.append("text").attr("x",cx).attr("y",P.tY).attr("dy","0.35em").attr("text-anchor","middle").attr("font-size",10.4).attr("fill","#111").text(P.title);
  P.sub.forEach((s,i)=>{ const t=g.append("text").attr("x",cx).attr("y",P.sY[i]).attr("dy","0.35em").attr("text-anchor","middle").attr("font-size",8.7).attr("fill","#111"); rich(t,s); });

  P.fac.forEach((f,fi) => {
    const [name,x0,x1] = f;
    const x = d3.scaleLinear().domain([17.5,72.5]).range([x0,x1]);
    g.append("rect").attr("x",x0).attr("y",P.sTop).attr("width",x1-x0).attr("height",P.top-P.sTop).attr("fill","#d9d9d9");
    g.append("text").attr("x",(x0+x1)/2).attr("y",(P.sTop+P.top)/2).attr("dy","0.35em").attr("text-anchor","middle").attr("font-size",9.2).attr("fill","#1a1a1a").text(name);
    const cid = "clip"+P.id+fi;
    g.append("clipPath").attr("id",cid).append("rect").attr("x",x0).attr("y",P.top).attr("width",x1-x0).attr("height",P.bot-P.top);
    const pg = g.append("g").attr("clip-path",`url(#${cid})`);
    [2,0,1].forEach(gi => {
      pg.selectAll(null).data(P.pts[fi][gi]).join("circle")
        .attr("cx",d=>x(d[0])).attr("cy",d=>y(d[1])).attr("r",2.45).attr("fill",COL[groups[gi]]);
    });
    const fits = P.fits.filter(d=>d[0]===fi);
    const area = d3.area().x(b=>x(b[0])).y0(b=>y(b[1])).y1(b=>y(b[2])).curve(d3.curveNatural);
    fits.forEach(d => {
      const [, gr, a0, v0, a1, v1, h0, hm, h1] = d;
      const am=(a0+a1)/2, vm=(v0+v1)/2;
      pg.append("path").datum([[a0,v0-h0,v0+h0],[am,vm-hm,vm+hm],[a1,v1-h1,v1+h1]])
        .attr("d",area).attr("fill","#999").attr("fill-opacity",0.42);
    });
    fits.forEach(d => {
      const [, gr, a0, v0, a1, v1] = d;
      pg.append("line").attr("x1",x(a0)).attr("y1",y(v0)).attr("x2",x(a1)).attr("y2",y(v1))
        .attr("stroke",COL[gr]).attr("stroke-width",gr==="Ca"?2:2.5);
    });
    P.stats.filter(s=>s[0]===fi).forEach(s => {
      const [, gr, n, k, p, fdr] = s;
      const xx = x(P.sAge[groups.indexOf(gr)]);
      const lines = [["n",n],["k",k],["p",p],["FDR",fdr]];
      lines.forEach((ln,i) => {
        const yy = i < P.nTop ? P.top + P.tOff + i*P.sp : P.bot - P.bOff[i-P.nTop];
        const t = g.append("text").attr("x",xx).attr("y",yy).attr("dy","0.35em").attr("font-size",8.2).attr("fill",COL[gr]);
        if (ln[0]==="FDR") t.text("FDR = "+ln[1]);
        else {
          t.append("tspan").text(ln[0]);
          t.append("tspan").attr("font-size",5.6).attr("dy",1.8).text(gr);
          t.append("tspan").attr("dy",-1.8).text(" = "+ln[1]);
        }
      });
    });
    const ax = g.append("g").attr("transform",`translate(0,${P.bot})`)
      .call(d3.axisBottom(x).tickValues(xTicks).tickSize(2.5).tickSizeOuter(0).tickPadding(1.5).tickFormat(d=>d));
    ax.attr("font-family",FONT);
    ax.select(".domain").attr("stroke","#222").attr("stroke-width",1.3);
    ax.selectAll(".tick line").attr("stroke","#333");
    ax.selectAll(".tick text").attr("fill","#4d4d4d").attr("font-size",7.6);
  });
  const ay = g.append("g").attr("transform",`translate(${left},0)`)
    .call(d3.axisLeft(y).tickValues(P.yt).tickSize(2.5).tickSizeOuter(0).tickPadding(1.5).tickFormat(v=>v.toFixed(P.dec)));
  ay.attr("font-family",FONT);
  ay.select(".domain").attr("stroke","#222").attr("stroke-width",1.3);
  ay.selectAll(".tick line").attr("stroke","#333");
  ay.selectAll(".tick text").attr("fill","#4d4d4d").attr("font-size",7.6);
  g.append("text").attr("transform",`translate(${P.ylx},${(P.top+P.bot)/2}) rotate(-90)`).attr("dy","0.35em")
    .attr("text-anchor","middle").attr("font-size",9.2).attr("fill","#111").text("Log2(TPM+1)");
  g.append("text").attr("x",cx).attr("y",P.bot+17).attr("dy","0.35em").attr("text-anchor","middle").attr("font-size",9.2).attr("fill","#111").text("Age");
});

// Ethnic group legend
const lg = svg.append("g");
lg.append("text").attr("x",202).attr("y",823).attr("dy","0.35em").attr("font-size",12).attr("fill","#111").text("Ethnic group");
groups.forEach((gr,i) => {
  const yy = 837 + i*12.5;
  lg.append("rect").attr("x",202).attr("y",yy-6).attr("width",10).attr("height",12).attr("fill","#d4d4d4");
  lg.append("line").attr("x1",202).attr("x2",212).attr("y1",yy).attr("y2",yy).attr("stroke",COL[gr]).attr("stroke-width",2.5);
  lg.append("text").attr("x",215).attr("y",yy).attr("dy","0.35em").attr("font-size",9.8).attr("fill","#111").text(groupNames[i]);
});

// Heatmap (i)
const hmColor = d3.scaleLinear()
  .domain([-8,-7.3,-5,-3.3,-2.6,-1.6,-0.4,0,0.4,1.5,2.5,3.4,4])
  .range(["#38c3ef","#29a9dd","#308fd8","#396bca","#3a66c8","#3d50bc","#252f86","#000000","#8e1a0c","#df612a","#ec8a2c","#f2a631","#f8bb36"]);
const hx = d3.scaleBand().domain(factors).range([440,613.3]);
const hy = d3.scaleBand().domain(tissues).range([582.3,880]);
const hg = svg.append("g");
hg.append("text").attr("x",358).attr("y",573).attr("dy","0.35em").attr("font-size",12).attr("font-weight","bold").attr("fill","#111").text("(i)");
hg.append("rect").attr("x",440).attr("y",582.3).attr("width",173.3).attr("height",880-582.3).attr("fill","#0e0b07");
hg.selectAll(null).data(fdrCells).join("rect")
  .attr("x",d=>hx(d[1])).attr("y",d=>hy(d[0])).attr("width",hx.bandwidth()).attr("height",hy.bandwidth())
  .attr("fill",d=>hmColor(d[3]*-Math.log10(d[2])));
const fmtE = v => { const [m,e] = v.toExponential(2).split("e"); const n=+e; return m+"E"+(n<0?"-":"+")+String(Math.abs(n)).padStart(2,"0"); };
hg.selectAll(null).data(fdrCells).join("text")
  .attr("x",d=>hx(d[1])+hx.bandwidth()/2).attr("y",d=>hy(d[0])+hy.bandwidth()/2).attr("dy","0.35em")
  .attr("text-anchor","middle").attr("font-size",8.8).attr("fill","#1c1c2c").text(d=>fmtE(d[2]));
hg.selectAll(null).data(factors).join("text")
  .attr("x",d=>hx(d)+hx.bandwidth()/2).attr("y",572).attr("dy","0.35em").attr("text-anchor","middle")
  .attr("font-size",11.8).attr("fill","#111").text(d=>d);
const smallRows = new Set(["Salivary Gland","Stomach"]);
hg.selectAll(null).data(tissues).join("text")
  .attr("x",437.5).attr("y",d=>hy(d)+hy.bandwidth()/2).attr("dy","0.35em").attr("text-anchor","end")
  .attr("font-size",d=>smallRows.has(d)?9.4:11.8).attr("fill","#111").text(d=>d);

// colour bar legend
const defs = svg.append("defs");
const grad = defs.append("linearGradient").attr("id","cbar").attr("x1",0).attr("x2",0).attr("y1",0).attr("y2",1);
d3.range(0,1.0001,0.01).forEach(t => {
  const v = scaleEnds[0] + (scaleEnds[1]-scaleEnds[0])*t;
  grad.append("stop").attr("offset",t).attr("stop-color",hmColor(v));
});
const cb = svg.append("g");
const ct = cb.append("text").attr("x",622).attr("y",627).attr("dy","0.35em").attr("font-size",9.6).attr("fill","#111");
ct.append("tspan").text("Signed −log");
ct.append("tspan").attr("font-size",6.5).attr("dy",2.5).text("10");
ct.append("tspan").attr("dy",-2.5).text("(FDR)");
cb.append("text").attr("x",623).attr("y",639).attr("dy","0.35em").attr("font-size",9.6).attr("fill","#111").text("+" + scaleEnds[0]);
cb.append("rect").attr("x",622).attr("y",646).attr("width",11.5).attr("height",41).attr("fill","url(#cbar)");
const zeroY = 646 + 41*(scaleEnds[0]/(scaleEnds[0]-scaleEnds[1]));
cb.append("line").attr("x1",622).attr("x2",633.5).attr("y1",zeroY).attr("y2",zeroY).attr("stroke","#000").attr("stroke-width",1.5);
cb.append("text").attr("x",623).attr("y",698).attr("dy","0.35em").attr("font-size",9.6).attr("fill","#111").text("−" + Math.abs(scaleEnds[1]));
codeLabels.forEach((c,i) => {
  const yy = 652 + i*10.7;
  cb.append("text").attr("x",657).attr("y",yy).attr("dy","0.35em").attr("text-anchor","middle").attr("font-size",9.4).attr("fill","#111").text(c[0]);
  cb.append("text").attr("x",682).attr("y",yy).attr("dy","0.35em").attr("text-anchor","middle").attr("font-size",9.4).attr("fill","#111").text(c[1]);
});
</script></body></html>
